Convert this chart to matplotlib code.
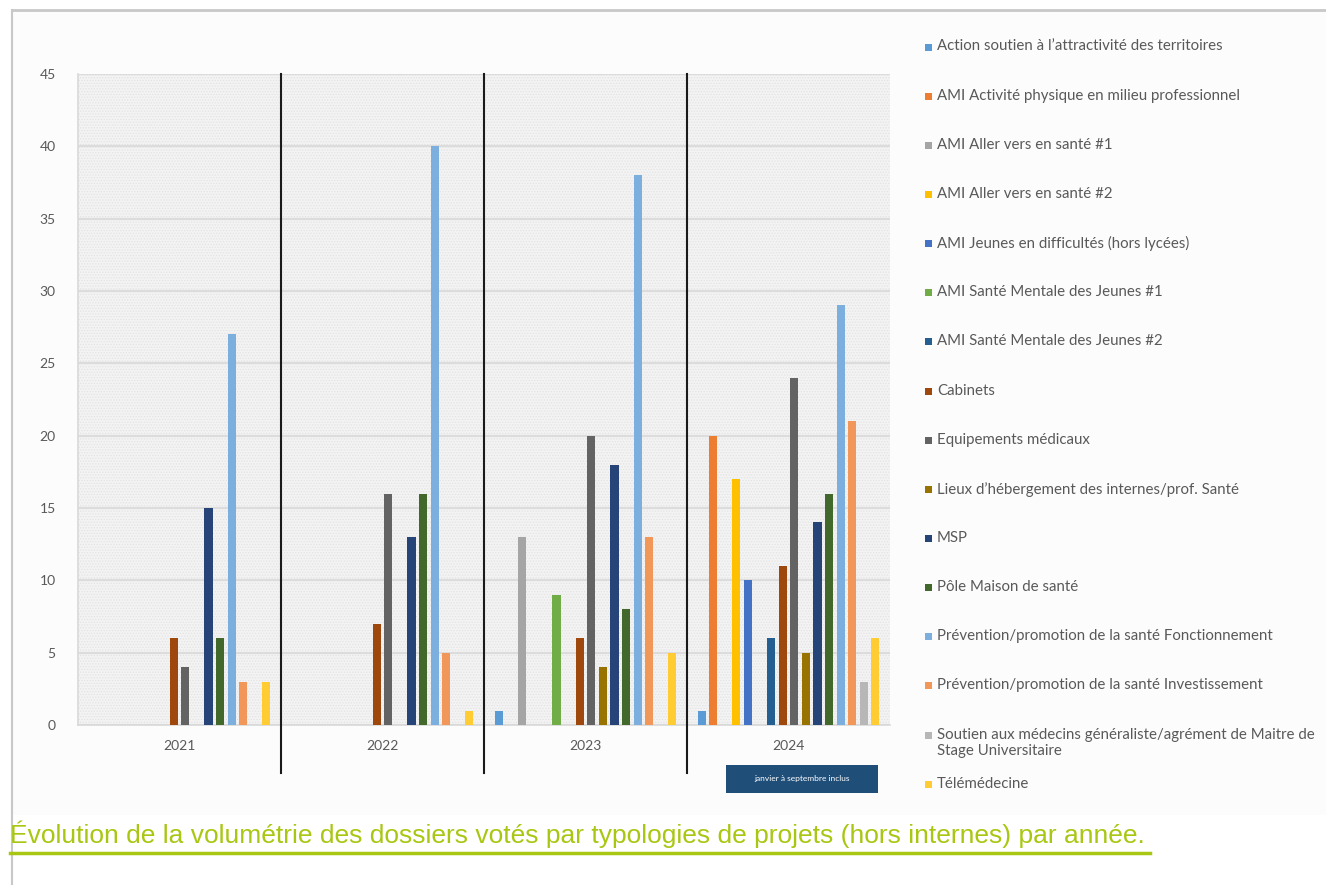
import numpy as np
import matplotlib.pyplot as plt
from matplotlib.patches import Rectangle
from matplotlib.lines import Line2D

# Années et typologies de projets
annees = ['2021', '2022', '2023', '2024']
typologies = [
    "Action soutien à l’attractivité des territoires",
    "AMI Activité physique en milieu professionnel",
    "AMI Aller vers en santé #1",
    "AMI Aller vers en santé #2",
    "AMI Jeunes en difficultés (hors lycées)",
    "AMI Santé Mentale des Jeunes #1",
    "AMI Santé Mentale des Jeunes #2",
    "Cabinets",
    "Equipements médicaux",
    "Lieux d’hébergement des internes/prof. Santé",
    "MSP",
    "Pôle Maison de santé",
    "Prévention/promotion de la santé Fonctionnement",
    "Prévention/promotion de la santé Investissement",
    "Soutien aux médecins généraliste/agrément de Maitre de\nStage Universitaire",
    "Télémédecine",
]
couleurs = ['#5B9BD5', '#ED7D31', '#A5A5A5', '#FFC000', '#4472C4', '#70AD47',
            '#255E91', '#9E480E', '#636363', '#997300', '#264478', '#43682B',
            '#7CAFDD', '#F1975A', '#B7B7B7', '#FFCD33']

# nombre de dossiers votés, une ligne par typologie (2021, 2022, 2023, 2024)
dossiers = [
    [0, 0, 1, 1],
    [0, 0, 0, 20],
    [0, 0, 13, 0],
    [0, 0, 0, 17],
    [0, 0, 0, 10],
    [0, 0, 9, 0],
    [0, 0, 0, 6],
    [6, 7, 6, 11],
    [4, 16, 20, 24],
    [0, 0, 4, 5],
    [15, 13, 18, 14],
    [6, 16, 8, 16],
    [27, 40, 38, 29],
    [3, 5, 13, 21],
    [0, 0, 0, 3],
    [3, 1, 5, 6],
]

W, H = 1326, 885
fig = plt.figure(figsize=(W / 100, H / 100), dpi=100)
fig.patch.set_facecolor('white')

def px(x, y):
    return x / W, 1 - y / H

# fond de l'image du graphique + cadre gris
fig.patches.append(Rectangle(px(12, 815), (W - 12) / W, 805 / H, transform=fig.transFigure,
                             facecolor='#FCFCFC', edgecolor='none', zorder=-5))
fig.add_artist(Line2D([12 / W, 1], [1 - 10 / H] * 2, color='#C8C8C8', lw=2))
fig.add_artist(Line2D([12 / W] * 2, [0, 1 - 10 / H], color='#C8C8C8', lw=1.5))

# zone de traçage
x0, x1, y0, y1 = 78, 890, 74, 725
ax = fig.add_axes([x0 / W, 1 - y1 / H, (x1 - x0) / W, (y1 - y0) / H])
ax.set_zorder(2)
ax.set_facecolor('#F3F3F3')
plt.rcParams['hatch.linewidth'] = 0.6
ax.add_patch(Rectangle((0, 0), 1, 1, transform=ax.transAxes, facecolor='none',
                       edgecolor='#E3E3E3', hatch='......', lw=0, zorder=0))

n = len(typologies)
pas = 0.0571
largeur = 0.04
x = np.arange(len(annees)) + 0.5
for i in range(n):
    ax.bar(x + (i - (n - 1) / 2) * pas, dossiers[i], width=largeur,
           color=couleurs[i], zorder=3)

ax.set_xlim(0, len(annees))
ax.set_ylim(0, 45)
ax.set_yticks(range(0, 46, 5))
ax.yaxis.grid(True, color='#DCDCDC', lw=1.6, zorder=1)
ax.set_axisbelow(True)
ax.set_xticks(x)
ax.set_xticklabels(annees)
ax.tick_params(length=0, labelsize=10, labelcolor='#595959')
ax.tick_params(axis='x', pad=11)
ax.tick_params(axis='y', pad=16)
for lab in ax.get_xticklabels() + ax.get_yticklabels():
    lab.set_family('Lato')
for s in ['top', 'right']:
    ax.spines[s].set_visible(False)
for s in ['left', 'bottom']:
    ax.spines[s].set_color('#D9D9D9')
    ax.spines[s].set_linewidth(1.2)

# séparateurs entre années
for k in range(1, len(annees)):
    ax.axvline(k, ymin=-48 / (y1 - y0), ymax=1, color='#1A1A1A', lw=1.5,
               clip_on=False, zorder=4)

# mention sous 2024
bx, by = px(726, 793)
fig.patches.append(Rectangle((bx, by), 152 / W, 28 / H, transform=fig.transFigure,
                             facecolor='#1F4E79', edgecolor='none', zorder=2))
fig.text(*px(802, 778), 'janvier à septembre inclus', color='white', fontsize=6,
         family='Lato', ha='center', va='center', zorder=3)

# légende
for i, (lab, c) in enumerate(zip(typologies, couleurs)):
    yl = 47 + 49.15 * i
    lx, ly = px(925, yl + 3.5)
    fig.patches.append(Rectangle((lx, ly), 7 / W, 7 / H, transform=fig.transFigure,
                                 facecolor=c, edgecolor='none'))
    fig.text(*px(937, yl - 7.5), lab, fontsize=10.8, family='Lato', color='#595959',
             ha='left', va='top', linespacing=1.2)

# titre sous le graphique
fig.text(*px(10, 834), "Évolution de la volumétrie des dossiers votés par typologies de projets (hors internes) par année.",
         color='#A8C712', fontsize=19, family='Liberation Sans',
         ha='left', va='center')
fig.add_artist(Line2D([10 / W, 1150 / W], [1 - 853 / H] * 2, color='#A8C712', lw=2.5))

fig.savefig('out.png', dpi=100)
